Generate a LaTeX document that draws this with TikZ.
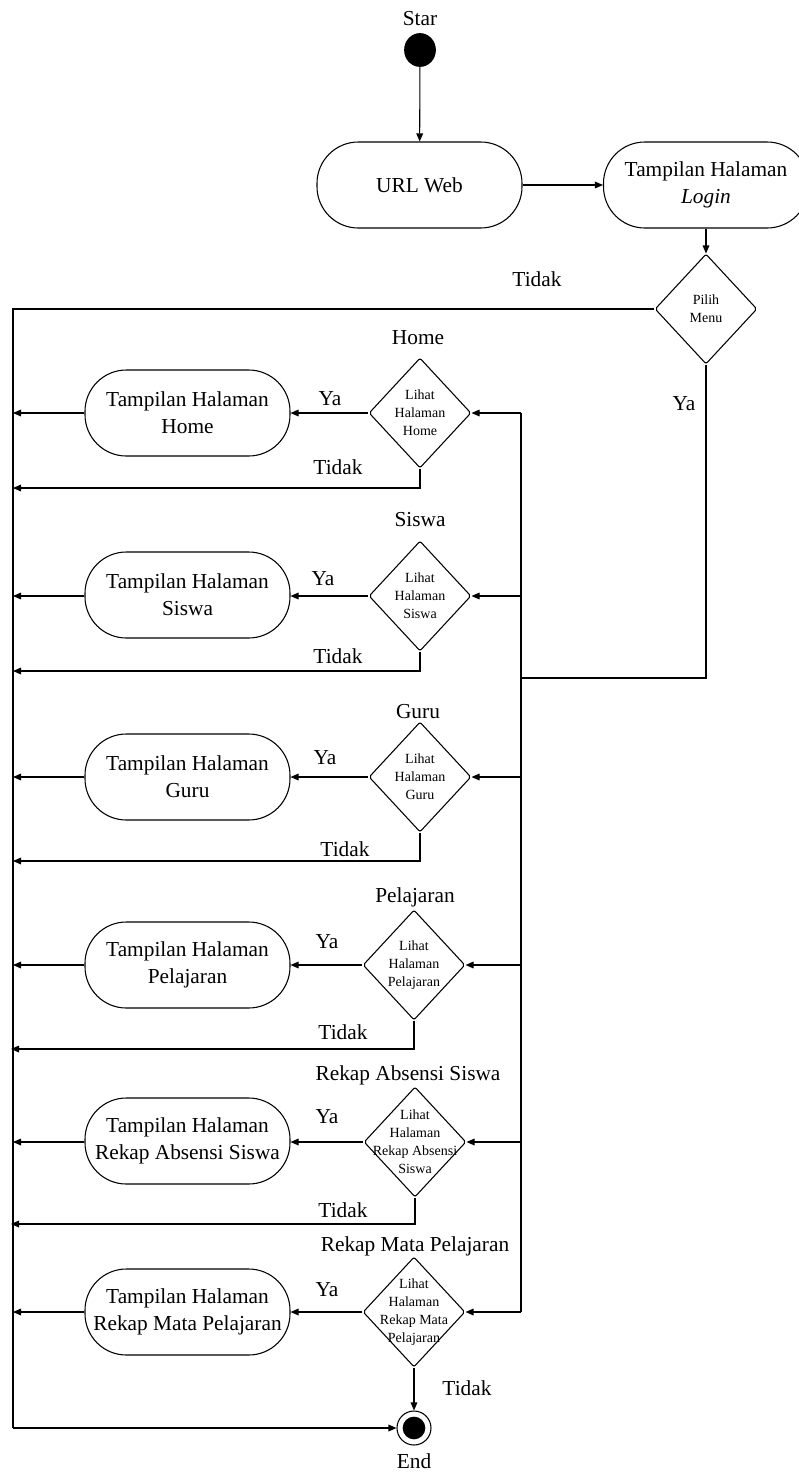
\documentclass[tikz,border=0pt]{standalone}
\usepackage{fontspec}
\setmainfont{Liberation Serif}
\usetikzlibrary{shapes.geometric,arrows.meta}
\begin{document}
\begin{tikzpicture}[x=0.75pt,y=-0.75pt,
  line width=0.8pt,
  arr/.style={-{Triangle[length=6pt,width=5pt]}},
  act/.style={draw,rectangle,rounded corners=31pt,minimum width=153.75pt,minimum height=64.5pt,inner sep=0pt,align=center,font=\fontsize{16}{20.5}\selectfont},
  dia/.style={draw,diamond,minimum width=76.5pt,minimum height=82.5pt,inner sep=0pt,rounded corners=1.5pt},
  dtext/.style={align=center,inner sep=0pt,font=\fontsize{10.5}{13.5}\selectfont},
  lbl/.style={inner sep=0pt,font=\fontsize{16}{18}\selectfont}]
\useasboundingbox (0,0) rectangle (799,1472);

% start
\node[lbl] (startlbl) at (420,19) {Star};
\node[ellipse,fill=black,draw,minimum width=23pt,minimum height=24.5pt,inner sep=0pt] (start) at (420,50) {};
\node[act] (url) at (419.5,185) {URL Web};
\node[act] (login) at (706,185) {Tampilan Halaman\\\textit{Login}};
\node[dia] (pm) at (706,309) {};
\node[dtext] (pmt) at (706,309) {Pilih\\Menu};
\node[lbl] (tidak0) at (537,279) {Tidak};
\node[lbl] (ya0) at (684,404) {Ya};

\draw[arr] (start) -- (url);
\draw[arr] (url) -- (login);
\draw[arr] (login) -- (pm);

% left return line
\coordinate (Ltop) at (13,309);
\coordinate (Lbot) at (13,1428);
\draw (pm.west) -- (Ltop) -- (Lbot);

% spine
\coordinate (Stop) at (521,413);
\coordinate (Sbot) at (521,1312);
\coordinate (Sj) at (521,678);
\draw (Stop) -- (Sbot);
\draw (pm.south) |- (Sj);

% Row 1 Home
\node[lbl] (h1) at (418,338) {Home};
\node[dia] (d1) at (420,413) {};
\node[dtext] (d1t) at (420,413) {Lihat\\Halaman\\Home};
\node[act] (b1) at (187.5,413) {Tampilan Halaman\\Home};
\node[lbl] (y1) at (330,399) {Ya};
\node[lbl] (t1) at (338,467) {Tidak};
\coordinate (s1) at (521,413);
\coordinate (l1) at (13,413);
\coordinate (n1) at (13,488);
\draw[arr] (s1) -- (d1.east);
\draw[arr] (d1.west) -- (b1.east);
\draw[arr] (b1.west) -- (l1);
\draw[arr] (d1.south) |- (n1);

% Row 2 Siswa
\node[lbl] (h2) at (420,520) {Siswa};
\node[dia] (d2) at (420,596) {};
\node[dtext] (d2t) at (420,596) {Lihat\\Halaman\\Siswa};
\node[act] (b2) at (187.5,595) {Tampilan Halaman\\Siswa};
\node[lbl] (y2) at (323,579) {Ya};
\node[lbl] (t2) at (338,656) {Tidak};
\coordinate (s2) at (521,596);
\coordinate (l2) at (13,596);
\coordinate (n2) at (13,671);
\draw[arr] (s2) -- (d2.east);
\draw[arr] (d2.west) -- (b2.east |- d2.west);
\draw[arr] (b2.west |- d2.west) -- (l2);
\draw[arr] (d2.south) |- (n2);

% Row 3 Guru
\node[lbl] (h3) at (418,712) {Guru};
\node[dia] (d3) at (420,777) {};
\node[dtext] (d3t) at (420,777) {Lihat\\Halaman\\Guru};
\node[act] (b3) at (187.5,777) {Tampilan Halaman\\Guru};
\node[lbl] (y3) at (325,758) {Ya};
\node[lbl] (t3) at (345,849) {Tidak};
\coordinate (s3) at (521,777);
\coordinate (l3) at (13,777);
\coordinate (n3) at (13,861);
\draw[arr] (s3) -- (d3.east);
\draw[arr] (d3.west) -- (b3.east);
\draw[arr] (b3.west) -- (l3);
\draw[arr] (d3.south) |- (n3);

% Row 4 Pelajaran
\node[lbl] (h4) at (415,897) {Pelajaran};
\node[dia] (d4) at (414,965) {};
\node[dtext] (d4t) at (414,965) {Lihat\\Halaman\\Pelajaran};
\node[act] (b4) at (187.5,965) {Tampilan Halaman\\Pelajaran};
\node[lbl] (y4) at (327,942) {Ya};
\node[lbl] (t4) at (343,1032) {Tidak};
\coordinate (s4) at (521,965);
\coordinate (l4) at (13,965);
\coordinate (n4) at (11,1049);
\draw[arr] (s4) -- (d4.east);
\draw[arr] (d4.west) -- (b4.east);
\draw[arr] (b4.west) -- (l4);
\draw[arr] (d4.south) |- (n4);

% Row 5 Rekap Absensi Siswa
\node[lbl] (h5) at (408,1075) {Rekap Absensi Siswa};
\node[dia] (d5) at (415,1142) {};
\node[dtext] (d5t) at (415,1142) {Lihat\\Halaman\\Rekap Absensi\\Siswa};
\node[act] (b5) at (187.5,1141) {Tampilan Halaman\\Rekap Absensi Siswa};
\node[lbl] (y5) at (327,1117) {Ya};
\node[lbl] (t5) at (343,1210) {Tidak};
\coordinate (s5) at (521,1142);
\coordinate (l5) at (13,1142);
\coordinate (n5) at (11,1224);
\draw[arr] (s5) -- (d5.east);
\draw[arr] (d5.west) -- (b5.east |- d5.west);
\draw[arr] (b5.west |- d5.west) -- (l5);
\draw[arr] (d5.south) |- (n5);

% Row 6 Rekap Mata Pelajaran
\node[lbl] (h6) at (415,1246) {Rekap Mata Pelajaran};
\node[dia] (d6) at (414,1312) {};
\node[dtext] (d6t) at (414,1312) {Lihat\\Halaman\\Rekap Mata\\Pelajaran};
\node[act] (b6) at (187.5,1312) {Tampilan Halaman\\Rekap Mata Pelajaran};
\node[lbl] (y6) at (327,1290) {Ya};
\node[lbl] (t6) at (467,1388) {Tidak};
\coordinate (s6) at (521,1312);
\coordinate (l6) at (13,1312);
\draw[arr] (s6) -- (d6.east);
\draw[arr] (d6.west) -- (b6.east);
\draw[arr] (b6.west) -- (l6);

% end
\node[circle,draw,minimum size=25.5pt,inner sep=0pt] (end) at (414,1428) {};
\node[circle,fill=black,minimum size=17pt,inner sep=0pt] (endin) at (414,1428) {};
\node[lbl] (endlbl) at (414,1461) {End};
\draw[arr] (d6.south) -- (end.north);
\draw[arr] (Lbot) -- (end.west);
\end{tikzpicture}
\end{document}
